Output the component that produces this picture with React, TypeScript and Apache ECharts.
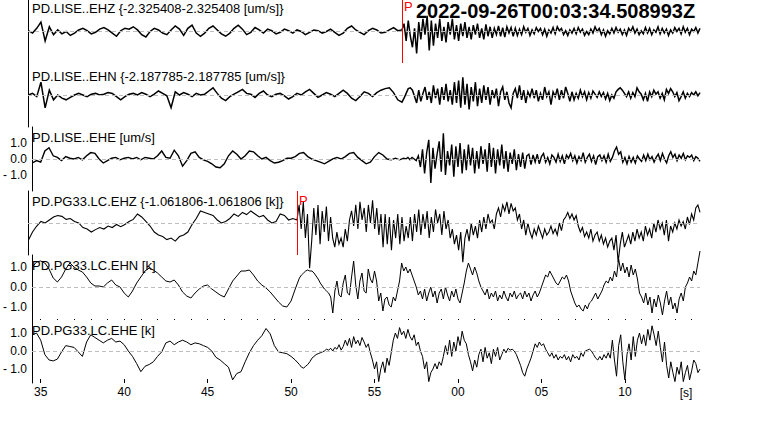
import React, { useEffect, useRef } from "react";
import * as echarts from "echarts";

// ---- time base (seconds; labels shown modulo 60) ----
const T0 = 34.5;
const DT_PRE = 0.25;
const DT_POST = 0.125;
const SPLIT_LISE = 56.75;
const SPLIT_PG33 = 50.5;
const X_MIN = 34.48;
const X_MAX = 74.5;

const majorTicks = [35, 40, 45, 50, 55, 60, 65, 70];
const minorTicks = [35, 36, 37, 38, 39, 40, 41, 42, 43, 44, 45, 46, 47, 48, 49, 50, 51, 52, 53, 54, 55, 56, 57, 58, 59, 60, 61, 62, 63, 64, 65, 66, 67, 68, 69, 70, 71, 72, 73, 74];
const yTickValues = [-1, 0, 1];

const titleText = "2022-09-26T00:03:34.508993Z";
const unitText = "[s]";

const traceLabels = [
  "PD.LISE..EHZ {-2.325408-2.325408 [um/s]}",
  "PD.LISE..EHN {-2.187785-2.187785 [um/s]}",
  "PD.LISE..EHE [um/s]",
  "PD.PG33.LC.EHZ {-1.061806-1.061806 [k]}",
  "PD.PG33.LC.EHN [k]",
  "PD.PG33.LC.EHE [k]",
];
const yHalfRanges = [2, 2, 2, 1.061806, 1.6, 1.7778];
const showYLabels = [false, false, true, false, true, true];
const pickTimes: (number | null)[] = [56.75, null, null, 50.5, null, null];
const pickLabel = "P";

// ---- waveforms: "Pre" sampled every DT_PRE from T0, "Post" every DT_POST from the split time ----
const liseEHZPre = [
  0.05, -0.1, 0.2, 0.6, -0.6, 0.3, -0.2, 0.1, -0.15, 0.0,
  -0.25, -0.1, 0.1, 0.2, 0.05, -0.15, -0.05, 0.15, 0.25, 0.1,
  -0.1, -0.3, 0.05, 0.2, 0.15, 0.3, 0.1, -0.2, -0.35, 0.0,
  0.2, 0.1, -0.1, -0.2, 0.1, 0.35, 0.15, -0.25, 0.2, 0.4,
  -0.1, -0.3, -0.1, 0.2, 0.35, 0.1, -0.15, -0.3, -0.1, 0.2,
  0.4, 0.15, -0.2, -0.05, 0.25, 0.1, -0.1, 0.15, 0.05, -0.15,
  -0.05, 0.15, 0.05, -0.1, 0.1, 0.0, -0.2, -0.05, 0.1, 0.05,
  -0.1, 0.0, 0.15, -0.05, -0.25, -0.1, 0.2, 0.35, 0.1, -0.05,
  -0.2, 0.05, 0.2, 0.1, -0.1, -0.05, 0.1, 0.25, 0.05,
];
const liseEHZPost = [
  0.1, 0.5, -0.6, 0.7, -0.3, -1.0, 0.2, -1.4, 0.6, -0.5, 0.8, -0.2, 1.0, -1.2, 0.7, -0.9,
  0.5, -0.4, 0.8, -0.6, 0.3, -0.7, 0.6, -0.2, 0.8, -0.5, 0.4, -0.6, 0.5, -0.3, 0.6, -0.4,
  0.3, -0.5, 0.4, -0.2, 0.5, -0.4, 0.2, -0.5, 0.45, -0.3, 0.3, -0.4, 0.2, -0.2, 0.35, -0.3, 0.25, -0.35, 0.3, -0.1, 0.25, -0.3, 0.2, -0.25,
  0.15, -0.2, 0.3, -0.05, 0.2, -0.25, 0.1, -0.15, 0.25, 0.0, 0.2, -0.2, 0.15, -0.3, 0.1, -0.1, 0.25, -0.15, 0.3, 0.05, 0.2, -0.2, 0.05, -0.25,
  0.1, -0.1, 0.2, -0.15, 0.25, -0.05, 0.15, -0.25, 0.0, -0.2, 0.15, -0.1, 0.3, 0.0, 0.2, -0.2, 0.1, -0.3, 0.05, -0.15, 0.2, -0.1, 0.25, -0.05,
  0.15, -0.2, 0.1, -0.25, 0.2, 0.0, 0.3, -0.1, 0.15, -0.2, 0.05, -0.15, 0.25, -0.1, 0.2, -0.2, 0.1, -0.05, 0.3, -0.15, 0.2, -0.1, 0.15, -0.25,
  0.1, -0.1, 0.25, 0.0, 0.2, -0.15, 0.3, -0.05, 0.2, -0.2, 0.15, 0.0, 0.25, -0.1, 0.2,
];

const liseEHNPre = [
  0.0, 0.1, -0.1, 0.8, -0.8, 0.3, -0.3, 0.0, -0.2, -0.3,
  -0.15, 0.0, 0.1, 0.0, -0.1, 0.05, 0.1, 0.0, 0.05, 0.15,
  0.1, -0.1, -0.3, -0.1, 0.05, 0.1, 0.0, 0.15, 0.05, -0.1,
  0.05, 0.25, 0.1, -0.05, -0.8, 0.2, 0.0, 0.15, 0.05, -0.1,
  0.1, 0.0, 0.05, 0.25, 0.45, 0.1, -0.2, -0.35, -0.1, 0.05,
  0.2, 0.35, 0.1, 0.05, -0.15, 0.1, 0.25, 0.0, -0.1, 0.05,
  0.1, -0.05, -0.25, -0.1, 0.1, 0.0, 0.2, 0.35, 0.1, -0.15,
  0.0, 0.15, 0.05, -0.1, 0.1, 0.3, 0.1, -0.2, -0.35, -0.1,
  0.2, 0.1, -0.1, 0.15, 0.3, 0.4, 0.45, 0.15, -0.3,
];
const liseEHNPost = [
  -0.45, -0.2, 0.1, 0.4, 0.45, 0.3, -0.1, -0.5,
  0.3, -0.4, 0.1, 0.5, -0.3, 0.2, -0.5, 0.6, -0.2, 0.4, -0.6, 0.5, -0.3, 0.7, -0.4, 0.3,
  -0.6, 0.8, -0.5, 0.9, -0.8, 1.1, -0.6, 0.7, -0.9, 0.5, -0.4, 0.8, -0.7, 0.4, -0.5, 0.6, -0.3, 0.5, -0.6, 0.3, -0.2, 0.4, -0.7, 0.2,
  0.5, -0.3, 0.2, -0.5, -0.8, 0.1, 0.4, -0.2, 0.6, -0.3, 0.3, -0.5, 0.2, -0.1, 0.4, -0.2, 0.3, -0.4, 0.1, -0.3, 0.5, -0.1, 0.2, -0.6,
  0.2, -0.1, 0.4, -0.3, 0.3, -0.2, 0.5, 0.1, -0.4, 0.2, -0.3, 0.1, -0.2, 0.3, -0.1, 0.2, -0.3, 0.15, -0.2, 0.25, 0.05, -0.15, 0.2, -0.1,
  0.15, -0.25, 0.1, -0.35, 0.0, -0.2, 0.2, 0.35, 0.45, 0.3, 0.1, -0.1, 0.2, -0.2, 0.15, -0.1, 0.45, 0.2, 0.05, -0.3, 0.1, -0.4, 0.2, -0.1,
  0.3, 0.05, 0.2, -0.2, 0.1, -0.3, 0.35, 0.1, 0.4, 0.2, -0.1, 0.15, -0.35, -0.1, 0.2, -0.2, 0.1, -0.1, 0.15, 0.0, 0.2, -0.05, 0.15,
];

const liseEHEPre = [
  -0.25, -0.1, -0.2, 0.5, 0.7, 0.2, 0.1, -0.1, 0.15, 0.05,
  0.0, 0.1, -0.05, 0.2, 0.4, 0.35, 0.0, -0.25, -0.1, 0.05,
  0.1, -0.05, 0.05, 0.1, 0.0, 0.1, -0.05, 0.1, 0.05, 0.0,
  0.2, 0.5, 0.1, 0.05, 0.55, 0.2, -0.45, -0.1, 0.35, 0.45,
  0.1, -0.05, -0.15, -0.3, -0.5, -0.55, -0.3, 0.2, 0.5, 0.3,
  0.0, 0.2, 0.5, 0.45, 0.2, 0.0, 0.1, -0.1, -0.25, -0.2,
  -0.1, 0.05, 0.05, 0.15, 0.35, 0.4, 0.15, 0.0, -0.1, -0.2,
  -0.3, -0.15, 0.0, 0.1, 0.0, 0.15, 0.35, 0.4, 0.1, -0.1,
  -0.3, -0.2, 0.15, 0.4, 0.25, 0.0, -0.05, 0.05, -0.05,
];
const liseEHEPost = [
  0.05, 0.0, 0.1, -0.05, 0.1, 0.0, -0.1, 0.2,
  -0.5, 0.6, -0.9, 0.4, 1.2, -1.5, 0.7, -0.6, 0.3, 1.1, -0.8, 1.6, -1.0, 0.5, -0.4, 0.9,
  -1.1, 0.8, -0.5, 1.0, -0.9, 0.6, -0.7, 0.9, -0.4, 0.7, -0.9, 0.5, -0.6, 0.8, -0.3, 0.6, -0.8, 1.0, -0.5, 0.7, -0.9, 0.6, -0.4, 0.9,
  -0.6, 0.5, -0.8, 0.4, -0.3, 0.6, -0.7, 0.3, -0.5, 0.4, -0.6, 0.2, 0.3, -0.35, 0.25, -0.2, 0.3, -0.3, 0.15, 0.35, -0.2, 0.1, -0.3, 0.25,
  0.1, -0.2, 0.3, -0.15, 0.2, -0.3, 0.25, 0.05, 0.35, -0.1, 0.2, -0.25, 0.15, -0.1, 0.4, -0.2, 0.1, 0.3, -0.15, 0.2, -0.35, 0.15, 0.25, -0.1,
  0.2, -0.2, 0.3, -0.15, 0.1, 0.5, 0.75, 0.3, 0.45, -0.2, 0.1, -0.3, 0.15, -0.2, 0.1, -0.25, 0.2, 0.0, -0.15, 0.25, -0.1, 0.3, -0.05, 0.15,
  -0.2, 0.1, 0.3, -0.1, 0.35, 0.0, -0.25, 0.2, 0.45, 0.1, 0.3, -0.1, 0.25, 0.05, 0.35, -0.05, 0.2, 0.1, 0.25, -0.1, 0.15, 0.05, -0.15,
];

const pg33EHZPre = [
  -0.57, -0.3, -0.1, 0.05, 0.0, 0.1, 0.2, 0.25, 0.22, 0.12,
  0.15, 0.05, 0.0, -0.15, -0.2, -0.3, -0.22, -0.15, -0.2, -0.1,
  -0.15, -0.05, -0.12, -0.05, 0.05, 0.12, 0.3, 0.2, 0.05, -0.1,
  -0.3, -0.4, -0.45, -0.55, -0.5, -0.6, -0.45, -0.4, -0.3, -0.05,
  0.15, 0.4, 0.35, 0.3, 0.25, 0.1, 0.0, 0.05, 0.15, 0.3,
  0.22, 0.35, 0.28, 0.4, 0.3, 0.2, 0.25, 0.1, 0.0, 0.05,
  0.3, 0.25, 0.1, 0.15,
];
const pg33EHZPost = [
  0.1, 0.6, -0.2, 0.7, -0.5, 0.3, -1.5, -0.6, 0.5, -0.4, 0.6, -0.7, 0.4, -0.3, 0.55, -0.6,
  0.2, -0.5, -0.8, -0.3, -0.7, -0.5, -0.8, -0.2, -0.6, 0.1, 0.4, -0.1, 0.6, -0.2, 0.7, 0.1,
  0.5, -0.3, 0.6, 0.0, 0.75, -0.2, 0.5, -0.4, 0.3, -0.8, 0.3, -0.7, 0.2, -0.9, 0.1, -0.5,
  0.3, -0.7, 0.2, -0.6, -0.1, -0.5, 0.2, -0.6, 0.3, -0.3, 0.45, -0.4, 0.3, -0.2, 0.4, -0.5, 0.2, -0.3, 0.45, 0.0, 0.3, -0.4, 0.4, -0.2,
  0.1, -0.5, -0.2, -0.7, -0.4, -0.9, -0.3, -1.3, -0.5, -0.2, -0.6, 0.0, -0.4, -0.1, -0.5, 0.1, -0.3, 0.2, -0.2, 0.3, 0.0, 0.1, -0.2, 0.3,
  0.5, 0.2, 0.6, 0.4, 0.7, 0.3, 0.65, 0.4, 0.5, 0.1, 0.3, -0.2, 0.1, -0.4, 0.0, -0.3, -0.5, -0.2, -0.4, -0.1, -0.3, -0.5, -0.2, -0.4,
  -0.3, -0.1, -0.35, -0.2, -0.4, 0.0, -0.25, 0.1, 0.2, 0.35, 0.15, 0.3, 0.1, 0.25, -0.1, -0.3, -0.15, -0.45, -0.3, -0.5, -0.2, -0.6, -0.4, -0.3,
  -0.6, -0.4, -0.7, -0.5, -0.8, -0.6, -0.5, -0.9, -0.4, -1.3, -0.7, -0.3, -0.8, -0.6, -0.4, -0.7, -0.3, -0.6, -0.2, -0.5, -0.3, -0.6, -0.1, -0.4,
  -0.2, -0.5, 0.0, -0.3, 0.1, -0.2, 0.0, -0.4, 0.1, -0.6, -0.1, -0.3, 0.0, -0.2, 0.1, -0.1, 0.05, -0.2, 0.2, -0.05, 0.3, 0.1, 0.5, 0.6, 0.35,
];

const pg33EHNPre = [
  1.0, 1.25, 1.3, 1.2, 0.9, 0.45, 0.25, 0.5, 0.9, 1.2,
  1.0, 0.85, 0.75, 0.5, 0.2, 0.05, 0.05, 0.0, 0.2, 0.35,
  0.1, 0.0, -0.3, -0.5, -0.2, 0.2, 0.5, 0.8, 0.95, 0.85,
  0.7, 0.5, 0.3, 0.25, 0.35, 0.1, -0.25, -0.45, -0.55, -0.3,
  -0.1, 0.05, 0.1, -0.1, -0.25, -0.4, -0.5, -0.1, 0.3, 0.55,
  0.8, 0.8, 0.85, 0.6, 0.3, 0.1, -0.05, -0.25, -0.5, -0.75,
  -0.95, -1.0, -0.7, -0.1,
];
const pg33EHNPost = [
  0.45, 0.6, 0.7, 0.8, 0.85, 0.8, 0.8, 0.7, 0.55, 0.4, 0.2, 0.05, -0.1, -0.2, -0.3, -0.5,
  -1.3, -0.2, 0.3, -0.4, -0.5, 0.2, 0.6, -0.3, -0.4, 0.5, 1.3, 0.1, -0.6, 0.3, 0.7, -0.2,
  -0.3, 0.9, 0.4, 0.2, 0.8, 0.3, -0.7, -0.3, -1.2, -0.6, -0.5, -0.9, -1.0, -0.5, -0.7, -0.2,
  0.3, 1.2, 0.8, 1.0, 0.7, 0.9, 0.6, 0.3, 0.0, -0.4, -0.2, -0.6, -0.1, -0.7, -0.3, 0.0, -0.5, -0.2, -0.8, -0.3, -0.1, -0.6, 0.0, -0.4,
  -0.7, -0.2, -0.5, -0.1, -0.6, -0.8, -0.3, 0.2, 0.8, 1.2, 0.9, 0.6, 1.0, 0.7, 0.3, 0.0, -0.2, -0.4, -0.1, -0.6, -0.3, -0.5, -0.2, -0.7,
  -0.4, -0.6, -0.2, -0.5, -0.7, -0.3, -0.5, -0.2, -0.6, -0.4, -0.3, -0.6, -0.2, -0.5, -0.3, -0.7, -0.4, -0.2, -0.5, -0.3, 0.0, 0.3, 0.6, 0.5,
  0.8, 0.6, 0.4, 0.2, 0.1, 0.3, 0.5, 0.4, 0.6, 0.3, -0.2, -0.5, -0.8, -1.0, -0.9, -1.1, -1.2, -0.9, -1.1, -0.8, -0.7, -0.5, -0.3, -0.6,
  -0.4, -0.2, 0.1, 0.3, 0.2, 0.5, 0.3, 0.8, 0.5, 1.4, 0.8, 1.2, 0.7, 1.0, 0.5, 1.1, 0.6, 0.9, 0.4, -0.3, -0.5, -0.8, -0.3, -0.9,
  -0.5, -1.3, -0.6, -1.0, -0.4, -0.8, -1.4, -0.7, -0.2, -0.9, -0.5, -1.1, -0.8, -1.3, -0.6, -0.3, -0.7, 0.0, 0.2, 0.5, 0.3, 0.8, 0.6, 1.2, 1.8,
];

const pg33EHEPre = [
  0.9, 1.0, 0.6, -0.2, -0.5, -0.55, -0.45, -0.05, 0.3, 0.25,
  0.2, -0.05, -0.3, 0.5, 0.9, 0.75, 0.6, 0.45, 0.6, 0.7,
  0.5, 0.55, 0.35, 0.0, -0.3, -0.7, -1.15, -0.85, -0.75, -0.6,
  -0.3, -0.05, 0.45, 0.55, 0.35, 0.5, 0.6, 0.5, 0.35, 0.45,
  0.4, 0.3, 0.2, 0.0, -0.35, -0.5, -0.7, -0.9, -1.6, -1.25,
  -1.15, -0.6, -0.1, 0.3, 0.6, 0.85, 1.25, 0.95, 0.3, -0.05,
  -0.1, -0.15, -0.3, -0.5,
];
const pg33EHEPost = [
  -0.75, -0.9, -0.95, -0.85, -0.75, -0.6, -0.4, -0.3, -0.2, -0.15, -0.1, -0.05, 0.0, 0.1, 0.05, 0.15,
  0.0, 0.2, 0.1, 0.35, 0.05, 0.25, 0.6, 0.3, 0.7, 0.2, 0.8, 0.4, 0.6, 0.3, 0.75, 0.5,
  0.2, 0.4, -0.1, -0.5, -1.0, -0.6, -1.7, -1.0, -0.6, -1.2, -0.4, -0.8, -0.1, 0.6, 1.0, 0.7,
  1.3, 0.9, 1.1, 0.7, 1.2, 0.8, 0.6, 0.9, 0.3, 0.5, 0.0, -0.3, -1.0, -0.6, -1.7, -1.2, -1.0, -0.7, -1.0, -0.6, -0.8, -0.3, 0.3, -0.2,
  0.6, -0.3, 0.5, 0.0, 0.8, 0.3, 1.1, 0.6, 0.4, -0.2, -0.6, -1.1, -0.5, -0.9, -0.2, 0.1, -0.6, 0.2, -0.4, -0.1, -0.7, 0.1, -0.3, 0.2,
  -0.5, -0.2, 0.1, -0.1, 0.15, 0.05, 0.1, 0.0, -0.2, -0.5, -0.8, -1.2, -1.4, -1.0, -0.7, -0.4, 0.0, 0.4, 0.2, 0.5, 0.3, 0.4, 0.1, -0.1,
  -0.3, -0.1, -0.4, -0.2, -0.5, -0.3, -0.4, -0.2, -0.5, -0.3, -0.6, -0.2, -0.4, -0.3, -0.5, -0.1, -0.3, 0.0, 0.05, 0.1, 0.0, -0.2, -0.4, -0.5,
  -0.3, -0.5, -0.2, -0.4, -0.1, -0.4, 0.6, -0.5, -1.4, 0.3, 0.9, -0.6, -1.6, -0.2, 0.4, -0.5, 0.8, -0.3, 0.6, 1.0, 0.4, 0.9, 0.3, 1.2,
  0.6, 1.4, 0.9, 0.3, 1.1, 0.2, -0.6, 0.5, -0.8, -1.5, -0.6, -1.2, -1.7, -0.9, -1.3, -0.6, -1.7, -1.2, -0.8, -1.6, -1.1, -0.5, -0.7, -1.2, -1.0,
];

const traces = [
  { pre: liseEHZPre, post: liseEHZPost, split: SPLIT_LISE },
  { pre: liseEHNPre, post: liseEHNPost, split: SPLIT_LISE },
  { pre: liseEHEPre, post: liseEHEPost, split: SPLIT_LISE },
  { pre: pg33EHZPre, post: pg33EHZPost, split: SPLIT_PG33 },
  { pre: pg33EHNPre, post: pg33EHNPost, split: SPLIT_PG33 },
  { pre: pg33EHEPre, post: pg33EHEPost, split: SPLIT_PG33 },
];

// ---- layout / style ----
const FONT = "'Liberation Sans', Arial, sans-serif";
const GRID_LEFT = 28;
const GRID_RIGHT = 68;
const PANEL_H = 64;
const FIRST_TOP = -1;
const labelY = [8.7, 76.5, 137, 201.7, 265.8, 330.5];
const pickLabelOffsetY = [6.5, 10];
const lineWidths = [1.5, 1.5, 1.4, 1.1, 1, 1];

export default function App() {
  const ref = useRef<HTMLDivElement>(null);

  useEffect(() => {
    if (!ref.current) return;
    const chart = echarts.init(ref.current, undefined, { renderer: "svg" });
    const n = traces.length;

    const grids = traces.map((_, i) => ({
      left: GRID_LEFT,
      right: GRID_RIGHT,
      top: FIRST_TOP + i * PANEL_H,
      height: PANEL_H,
    }));

    const xAxes: any[] = traces.map((_, i) => {
      const last = i === n - 1;
      return {
        type: "value",
        gridIndex: i,
        min: X_MIN,
        max: X_MAX,
        axisLine: { show: false, onZero: false },
        splitLine: { show: false },
        axisTick: last
          ? { show: true, inside: true, length: 4, customValues: majorTicks, lineStyle: { color: "#000" } }
          : { show: false },
        axisLabel: last
          ? {
              show: true,
              customValues: majorTicks,
              margin: 3,
              fontSize: 12,
              fontFamily: FONT,
              color: "#000",
              formatter: (v: number) => String(Math.round(v) % 60).padStart(2, "0"),
            }
          : { show: false },
      };
    });
    xAxes.push({
      type: "value",
      gridIndex: n - 1,
      min: X_MIN,
      max: X_MAX,
      axisLine: { show: false, onZero: false },
      splitLine: { show: false },
      axisTick: { show: true, inside: true, length: 1, customValues: minorTicks, lineStyle: { color: "#000" } },
      axisLabel: { show: false },
    });

    const yAxes = traces.map((_, i) => ({
      type: "value",
      gridIndex: i,
      min: -yHalfRanges[i],
      max: yHalfRanges[i],
      axisLine: { show: true, onZero: false, lineStyle: { color: "#000", width: 1 } },
      axisTick: { show: false },
      splitLine: { show: false },
      axisLabel: showYLabels[i]
        ? {
            show: true,
            customValues: yTickValues,
            margin: 5,
            fontSize: 12,
            fontFamily: FONT,
            color: "#000",
            formatter: (v: number) => (v < 0 ? "- " + Math.abs(v).toFixed(1) : v.toFixed(1)),
          }
        : { show: false },
    }));

    const series = traces.map((tr, i) => {
      const data = [
        ...tr.pre.map((v, k) => [T0 + k * DT_PRE, v]),
        ...tr.post.map((v, k) => [tr.split + k * DT_POST, v]),
      ];
      const markData: any[] = [
        { yAxis: 0, lineStyle: { color: "#bdbdbd", type: [4, 3], width: 1 } },
      ];
      const pt = pickTimes[i];
      if (pt !== null) {
        markData.push({ xAxis: pt, lineStyle: { color: "#ff0000", type: "solid", width: 1 } });
      }
      const s: any = {
        type: "line",
        xAxisIndex: i,
        yAxisIndex: i,
        data,
        showSymbol: false,
        symbol: "none",
        clip: false,
        silent: true,
        lineStyle: { color: "#000", width: lineWidths[i], join: "miter" },
        markLine: {
          silent: true,
          symbol: ["none", "none"],
          label: { show: false },
          data: markData,
        },
      };
      if (pt !== null) {
        const oi = i === 0 ? 0 : 1;
        s.markPoint = {
          silent: true,
          symbol: "circle",
          symbolSize: 0.01,
          itemStyle: { color: "rgba(0,0,0,0)" },
          label: {
            show: true,
            formatter: pickLabel,
            position: [2, pickLabelOffsetY[oi]],
            align: "left",
            verticalAlign: "middle",
            color: "#ff0000",
            fontSize: 13,
            fontFamily: FONT,
          },
          data: [{ coord: [pt, yHalfRanges[i]] }],
        };
      }
      return s;
    });

    const graphic: any[] = traceLabels.map((t, i) => ({
      type: "text",
      x: 32,
      y: labelY[i],
      z: 1,
      style: {
        text: t,
        fontSize: 13,
        fontFamily: FONT,
        fill: "#000",
        textVerticalAlign: "middle",
      },
    }));
    graphic.push({
      type: "text",
      x: 416,
      y: 11,
      z: 100,
      style: {
        text: titleText,
        fontSize: 20,
        fontWeight: "bold",
        fontFamily: FONT,
        fill: "#000",
        textVerticalAlign: "middle",
      },
    });
    graphic.push({
      type: "text",
      x: 686,
      y: 393,
      style: {
        text: unitText,
        fontSize: 12,
        fontFamily: FONT,
        fill: "#000",
        textAlign: "center",
        textVerticalAlign: "middle",
      },
    });

    chart.setOption({
      animation: false,
      backgroundColor: "#fff",
      grid: grids,
      xAxis: xAxes,
      yAxis: yAxes,
      series,
      graphic,
    });

    return () => chart.dispose();
  }, []);

  return (
    <div
      ref={ref}
      style={{ position: "absolute", left: 0, top: 0, width: 768, height: 433 }}
    />
  );
}
